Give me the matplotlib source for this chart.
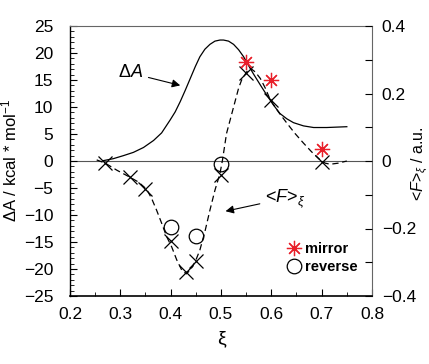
import matplotlib
matplotlib.use("Agg")
import matplotlib.pyplot as plt
import numpy as np

plt.rcParams['font.family'] = ['Liberation Sans', 'DejaVu Sans']
plt.rcParams['mathtext.fontset'] = 'custom'
plt.rcParams['mathtext.rm'] = 'Liberation Sans'
plt.rcParams['mathtext.it'] = 'Liberation Sans:italic'

# Free energy curve Delta A (kcal/mol)
dA_xi = [0.266, 0.286, 0.306, 0.326, 0.346, 0.366, 0.382, 0.399, 0.409, 0.419,
         0.429, 0.439, 0.449, 0.458, 0.468, 0.478, 0.488, 0.498, 0.505, 0.515,
         0.525, 0.535, 0.545, 0.554, 0.564, 0.578, 0.591, 0.604, 0.617, 0.631,
         0.644, 0.664, 0.684, 0.710, 0.750]
dA_val = [0.06, 0.43, 0.99, 1.6, 2.5, 3.8, 5.2, 7.6, 9.1, 11.0,
          13.1, 15.3, 17.5, 19.3, 20.7, 21.6, 22.2, 22.4, 22.4, 22.2,
          21.6, 20.6, 19.3, 17.8, 16.2, 14.1, 12.2, 10.4, 8.8, 7.8,
          7.1, 6.5, 6.2, 6.2, 6.35]

# Mean force dashed fit curve (left-axis units)
F_fit_xi = [0.253, 0.27, 0.293, 0.319, 0.336, 0.352, 0.362, 0.372, 0.382, 0.392,
            0.402, 0.412, 0.422, 0.431, 0.439, 0.449, 0.458, 0.468, 0.478, 0.488,
            0.498, 0.503, 0.511, 0.525, 0.535, 0.541, 0.551, 0.558, 0.568, 0.578,
            0.588, 0.598, 0.614, 0.631, 0.647, 0.664, 0.680, 0.697, 0.707, 0.717,
            0.733, 0.750]
F_fit_val = [0.2, -0.4, -1.7, -3.0, -3.9, -5.2, -6.9, -9.1, -11.5, -14.0,
             -15.9, -18.3, -20.2, -20.9, -20.2, -18.6, -16.5, -13.1, -9.1, -5.4,
             -2.3, 0.2, 5.1, 10.0, 13.5, 15.0, 16.5, 17.2, 16.5, 15.3,
             13.5, 11.3, 9.1, 7.0, 5.1, 3.3, 1.7, 0.2, -0.4, -0.6,
             -0.4, 0.0]

# Mean force data points (crosses)
F_xi = [0.27, 0.32, 0.35, 0.40, 0.43, 0.45, 0.50, 0.55, 0.60, 0.70]
F_val = [-0.4, -3.0, -5.2, -14.9, -20.6, -18.5, -2.6, 16.3, 11.3, -0.2]

# mirror (stars)
mir_xi = [0.55, 0.60, 0.70]
mir_val = [18.4, 15.0, 2.2]

# reverse (circles)
rev_xi = [0.40, 0.45, 0.50]
rev_val = [-12.2, -13.9, -0.6]

fig = plt.figure(figsize=(4.29, 3.64), dpi=100)
ax = fig.add_axes([70/429, 68/364, 302/429, 270/364])

ax.axhline(0, color='#555555', lw=0.8, zorder=1)
ax.plot(dA_xi, dA_val, color='black', lw=0.9, zorder=3)
ax.plot(F_fit_xi, F_fit_val, color='black', lw=0.9, ls=(0, (5, 3)), zorder=3)
ax.plot(F_xi, F_val, ls='none', marker='x', ms=10, mew=0.9, color='black', zorder=4)
ax.plot(mir_xi, mir_val, ls='none', marker=(8, 2, 0), ms=11, mew=0.9,
        color='#e8202a', zorder=5, label='mirror')
ax.plot(rev_xi, rev_val, ls='none', marker='o', ms=10.5, mew=0.9, mfc='none',
        mec='black', zorder=5, label='reverse')

ax.set_xlim(0.2, 0.8)
ax.set_ylim(-25, 25)
ax.set_xticks(np.arange(0.2, 0.81, 0.1))
ax.set_xticks(np.arange(0.25, 0.8, 0.1), minor=True)
ax.set_yticks(np.arange(-25, 26, 5))
ax.set_yticks(np.arange(-25, 26, 1), minor=True)
ax.tick_params(axis='both', which='major', direction='in', length=5, width=0.8,
               labelsize=12.5)
ax.tick_params(axis='y', which='major', pad=12)
ax.tick_params(axis='x', which='major', pad=8)
ax.tick_params(axis='both', which='minor', direction='in', length=3, width=0.6)
ax.tick_params(axis='y', which='both', right=False)
ax.tick_params(axis='x', which='both', top=False)
ax.set_xticklabels(['0.2', '0.3', '0.4', '0.5', '0.6', '0.7', '0.8'])
ax.set_yticklabels([str(v).replace('-', '\u2212') for v in range(-25, 26, 5)])

ax.spines['top'].set_color('#666666')
ax.spines['top'].set_linewidth(0.8)
ax.spines['right'].set_color('#666666')
ax.spines['right'].set_linewidth(0.8)
ax.spines['left'].set_linewidth(1.0)
ax.spines['bottom'].set_linewidth(1.2)

ax.set_xlabel('\u03be', fontsize=14, labelpad=6)
ax.set_ylabel('\u0394A / kcal * mol$^{\u22121}$', fontsize=12, labelpad=3)

ax2 = ax.twinx()
ax2.set_ylim(-0.4, 0.4)
ax2.set_yticks([-0.4, -0.2, 0, 0.2, 0.4])
ax2.set_yticks(np.arange(-0.4, 0.41, 0.1), minor=True)
ax2.set_yticklabels(['\u22120.4', '\u22120.2', '0', '0.2', '0.4'])
ax2.tick_params(axis='y', which='both', direction='in', length=5, width=0.8,
                labelsize=12.5, pad=7)
for s in ['top', 'right', 'left', 'bottom']:
    ax2.spines[s].set_visible(False)
fig.text(420/429, 0.55, r'<$\mathit{F}$>$_{\xi}$ / a.u.', fontsize=11.5,
         rotation=90, ha='center', va='center')

ax.annotate('\u0394$\\mathit{A}$', xy=(0.419, 14.0), xytext=(0.345, 16.3),
            fontsize=13, ha='right', va='center',
            arrowprops=dict(arrowstyle='-|>', color='black', lw=0.8,
                            mutation_scale=12, shrinkA=2, shrinkB=0))
ax.annotate(r'<$\mathit{F}$>$_{\xi}$', xy=(0.509, -9.3), xytext=(0.588, -6.9),
            fontsize=13, ha='left', va='center',
            arrowprops=dict(arrowstyle='-|>', color='black', lw=0.8,
                            mutation_scale=12, shrinkA=2, shrinkB=0))

leg = ax.legend(loc='lower right', bbox_to_anchor=(0.978, 0.055), frameon=False,
                prop={'weight': 'bold', 'size': 10.5}, handlelength=1.0,
                handletextpad=0.3, labelspacing=0.25, borderpad=0.0)

fig.savefig('out.png', dpi=100)
